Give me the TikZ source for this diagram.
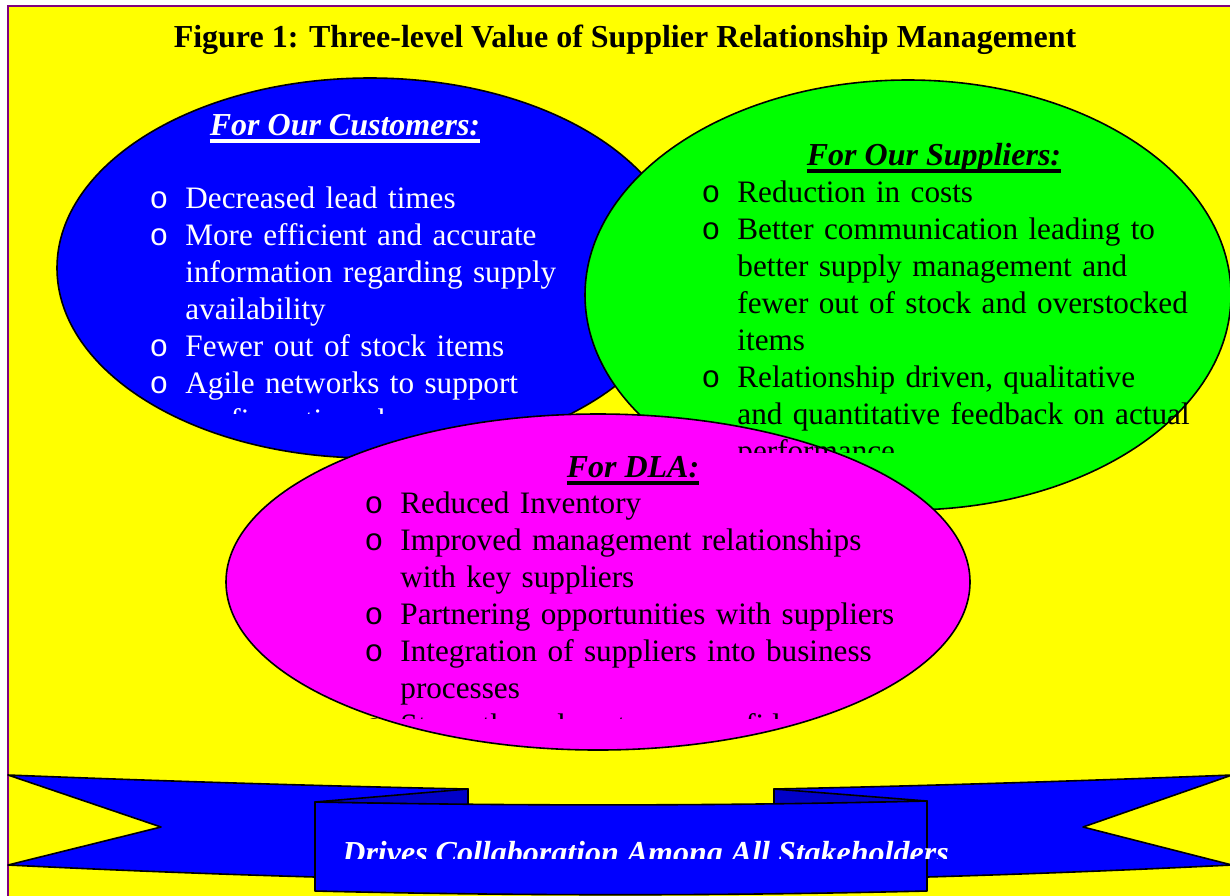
\documentclass[tikz,border=0pt]{standalone}
\usepackage{fontspec}
\setmainfont{Liberation Serif}
\newfontfamily\bulfont{Liberation Mono}
\usetikzlibrary{shapes.geometric}
\definecolor{framecol}{RGB}{128,0,128}
\definecolor{foldcol}{RGB}{0,0,200}
\definecolor{bgyellow}{RGB}{255,255,0}
\definecolor{custblue}{RGB}{0,0,255}
\definecolor{suppgreen}{RGB}{0,255,0}
\definecolor{dlapink}{RGB}{255,0,255}
\newcommand{\bul}{\leavevmode\llap{{\bulfont o}\hspace{8.5pt}}}
\newcommand{\hd}[1]{\setbox0\hbox{#1}\rlap{\rule[-3.8pt]{\wd0}{1.8pt}}\box0}
\tikzset{bubble/.style={ellipse, draw=black, line width=0.8pt, inner sep=0pt},
  itembox/.style={anchor=base west, inner sep=0pt, align=left, font=\fontsize{15.6}{18.5}\selectfont},
  head/.style={anchor=base, inner sep=0pt, font=\fontsize{16}{18.5}\selectfont\bfseries\itshape},
  ribbon/.style={draw=black, line width=0.8pt, line join=round}}

\begin{document}
\begin{tikzpicture}[x=0.5pt,y=-0.5pt]
\useasboundingbox (0,0) rectangle (1230,895);
\clip (0,0) rectangle (1230,895);
\fill[white] (0,0) rectangle (1230,895);
\fill[bgyellow] (8,6) rectangle (1240,905);
\draw[framecol, line width=0.8pt] (8,6) rectangle (1240,905);

\node[anchor=base, inner sep=0pt, font=\fontsize{16}{18.5}\selectfont\bfseries] (title) at (625,47)
  {Figure 1: Three-level Value of Supplier Relationship Management};

% the three ellipses
\node[bubble, fill=custblue, minimum width=313pt, minimum height=190pt] (cust) at (370,268) {};
\node[bubble, fill=suppgreen, minimum width=323pt, minimum height=215pt] (supp) at (908,295) {};
\node[bubble, fill=dlapink, minimum width=372pt, minimum height=168pt] (dla) at (598,582) {};

% customers
\begin{scope}
\clip (0,0) rectangle (1230,413);
\node[head, text=white] (custhead) at (345,135) {\hd{For Our Customers:}};
\node[itembox, text=white, text width=220pt] (custlist) at (185,208)
  {\bul Decreased lead times\\
   \bul More efficient and accurate\\
   information regarding supply\\
   availability\\
   \bul Fewer out of stock items\\
   \bul Agile networks to support\\
   configuration changes};
\end{scope}

% suppliers
\begin{scope}
\clip (0,0) rectangle (1230,452);
\node[head] (supphead) at (934,165) {\hd{For Our Suppliers:}};
\node[itembox, text width=240pt] (supplist) at (737,202)
  {\bul Reduction in costs\\
   \bul Better communication leading to\\
   better supply management and\\
   fewer out of stock and overstocked\\
   items\\
   \bul Relationship driven, qualitative\\
   and quantitative feedback on actual\\
   performance};
\end{scope}

% dla
\begin{scope}
\clip (0,0) rectangle (1230,718);
\node[head] (dlahead) at (633,477) {\hd{For DLA:}};
\node[itembox, text width=270pt] (dlalist) at (400,513)
  {\bul Reduced Inventory\\
   \bul Improved management relationships\\
   with key suppliers\\
   \bul Partnering opportunities with suppliers\\
   \bul Integration of suppliers into business\\
   processes\\
   \bul Strengthened customer confidence};
\end{scope}

% banner
\filldraw[ribbon, fill=custblue] (8,775) .. controls (160,781) and (320,786) .. (468,789) -- (468,806) -- (315,806)
  -- (315,877) .. controls (210,874) and (110,870) .. (8,865) -- (161,827) -- cycle;
\filldraw[ribbon, fill=custblue] (1232,775) .. controls (1080,781) and (920,786) .. (774,789) -- (774,806) -- (927,806)
  -- (927,877) .. controls (1030,874) and (1130,870) .. (1232,865) -- (1083,827) -- cycle;
\filldraw[ribbon, fill=foldcol] (315,802) -- (468,789) -- (468,805) -- cycle;
\filldraw[ribbon, fill=foldcol] (927,801) -- (774,789) -- (774,805) -- cycle;
\filldraw[ribbon, fill=custblue] (315,802) .. controls (520,806) and (720,806) .. (927,801) -- (927,891)
  .. controls (720,896) and (520,896) .. (315,891) -- cycle;
\begin{scope}
\clip (0,820) rectangle (1230,858);
\node[anchor=base west, inner sep=0pt, text=white, font=\fontsize{16}{18.5}\selectfont\bfseries\itshape] (motto) at (342,863)
  {Drives Collaboration Among All Stakeholders};
\end{scope}
\end{tikzpicture}
\end{document}
